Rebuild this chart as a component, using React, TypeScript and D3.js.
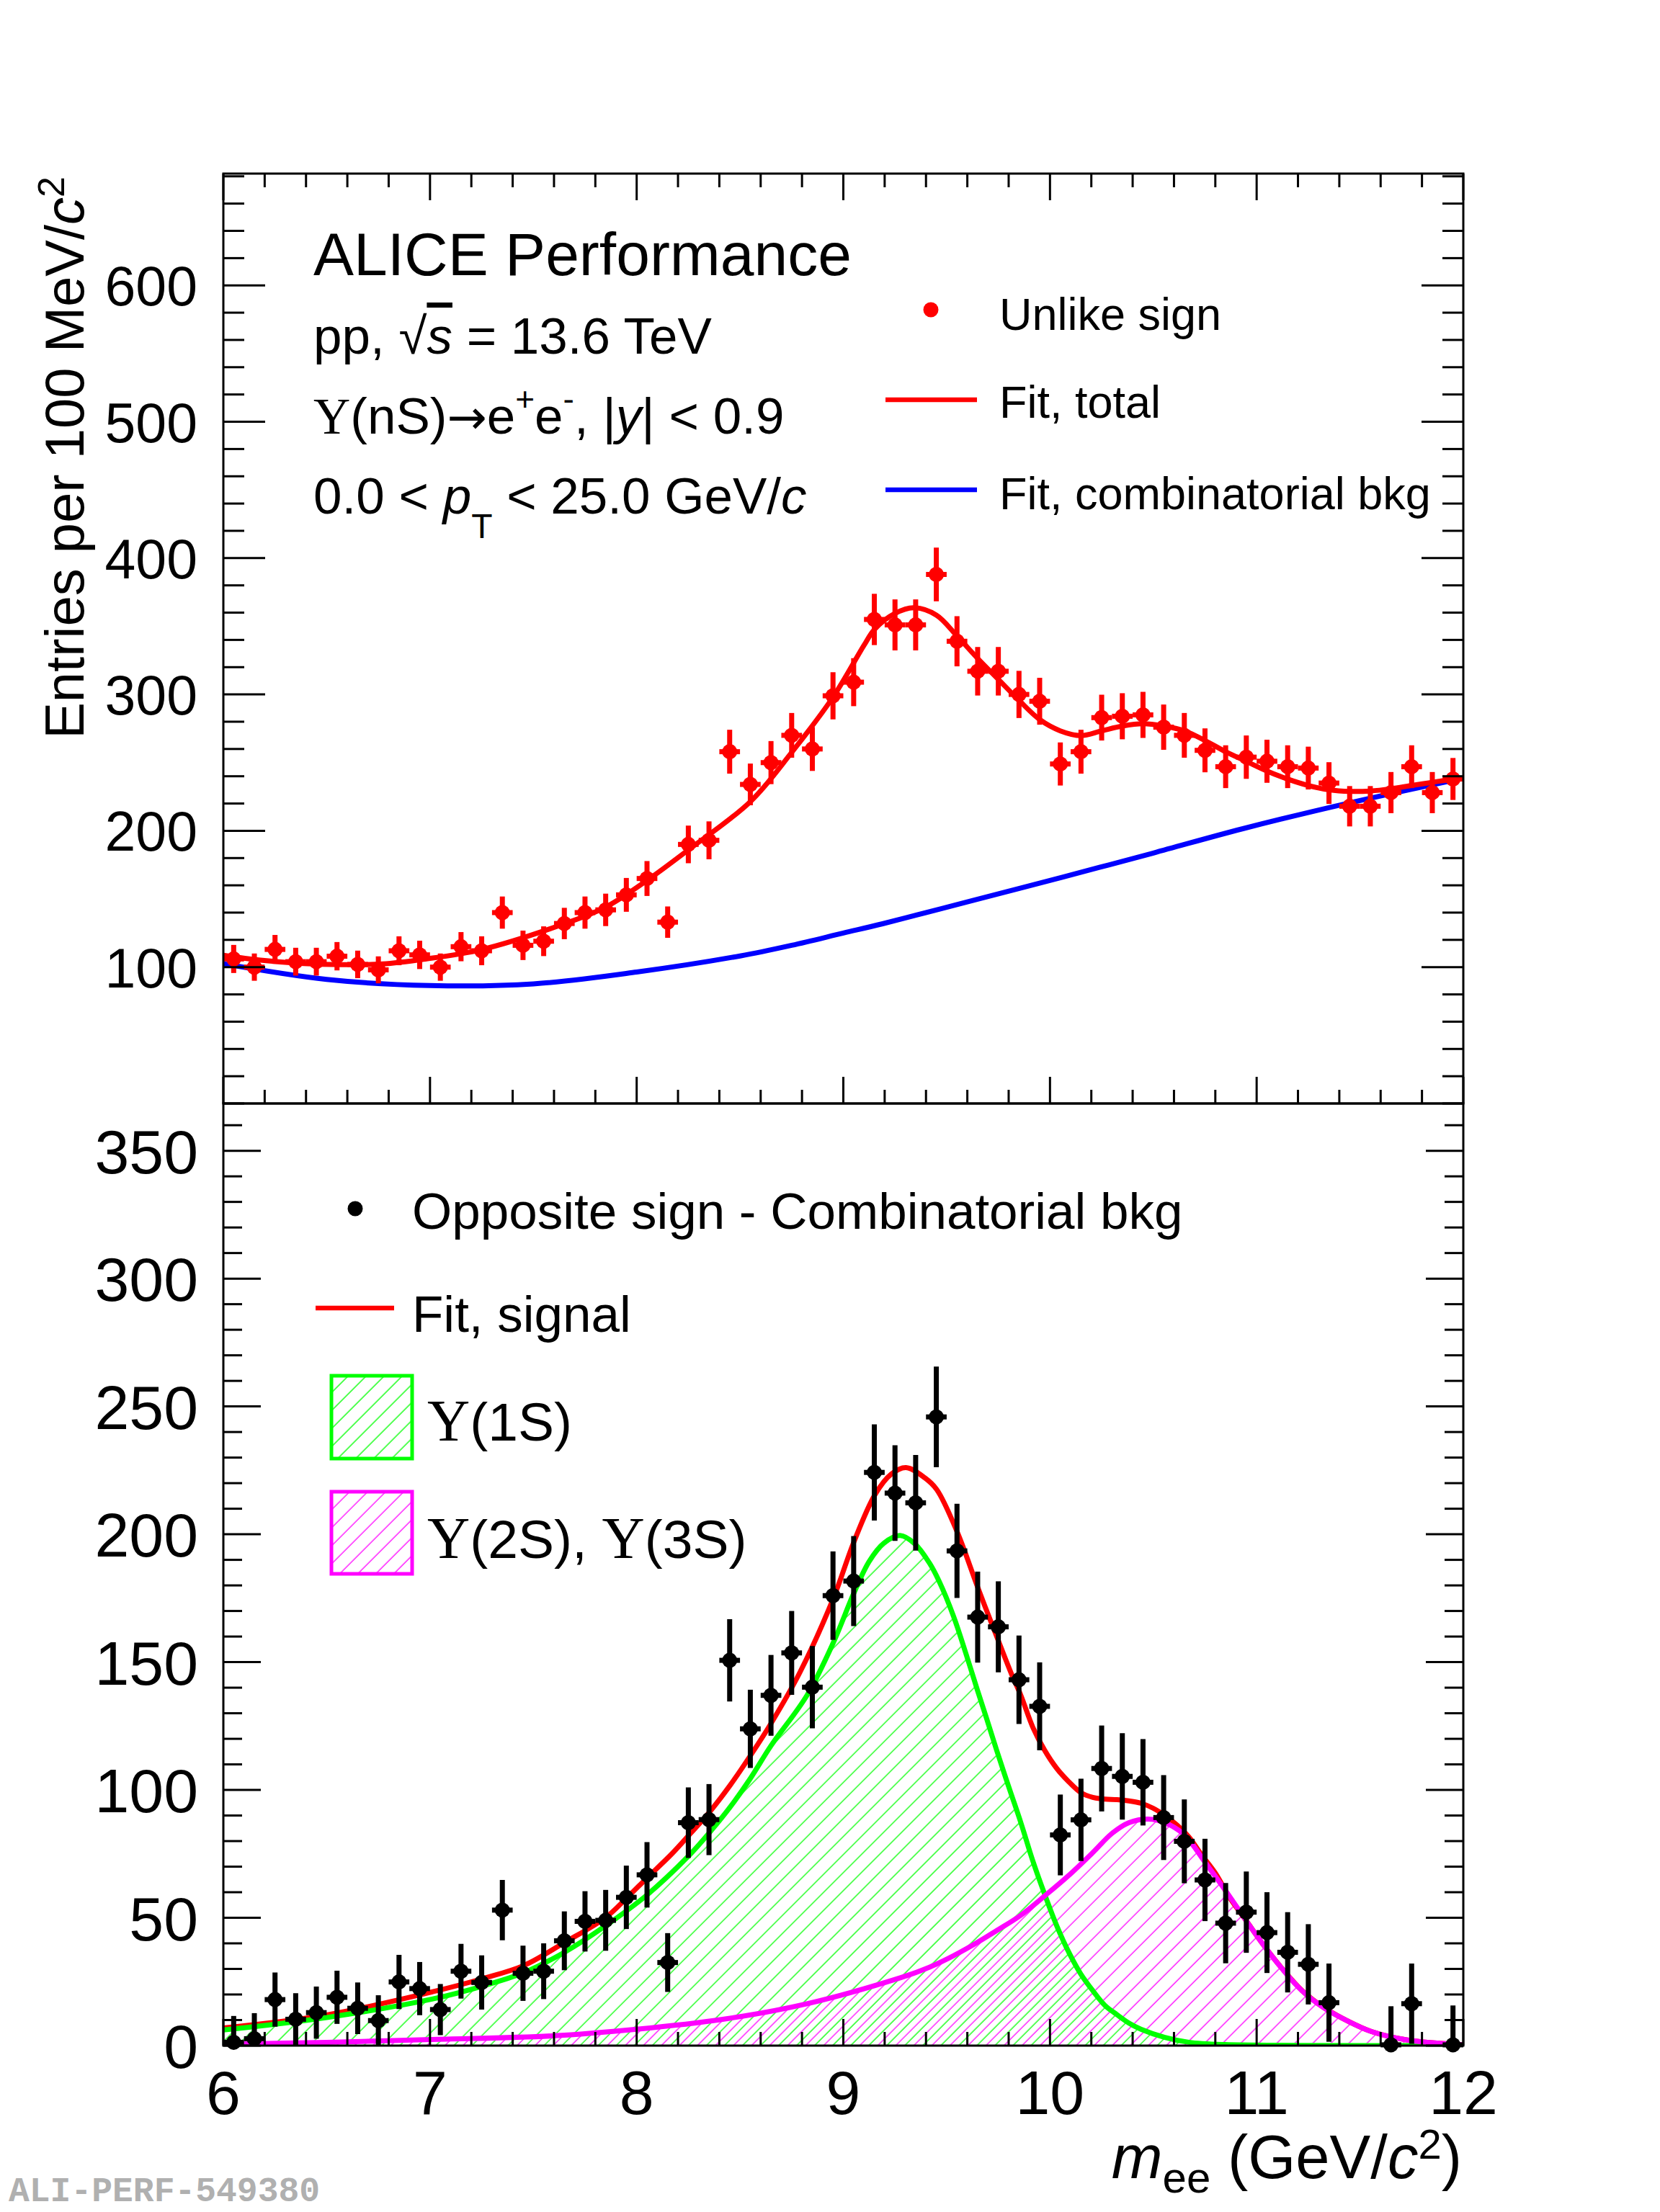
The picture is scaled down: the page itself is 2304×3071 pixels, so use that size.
import * as d3 from "d3";

type Pt = [number, number];

const SANS = "'Liberation Sans', Arial, Helvetica, sans-serif";
const SERIF = "'Liberation Serif', 'Times New Roman', serif";
const MONO = "'Liberation Mono', 'Courier New', monospace";

const RED = "#ff0000";
const BLUE = "#0000ff";
const GREEN = "#00ff00";
const MAGENTA = "#ff00ff";

// histogram binning: 60 bins of 100 MeV from 6 to 12 GeV
const MASS_MIN = 6;
const MASS_MAX = 12;
const BIN_WIDTH = 0.1;

// upper pad: unlike-sign pairs per bin
const UNLIKE_SIGN = [
  106, 100, 113, 104, 104, 108, 102, 98, 112, 109,
  100, 115, 112, 140, 116, 119, 132, 140, 142, 153,
  165, 133, 190, 193, 258, 234, 250, 270, 260, 299,
  309, 355, 351, 351, 388, 339, 317, 317, 300, 295,
  249, 258, 283, 284, 285, 276, 270, 259, 247, 254,
  251, 247, 246, 235, 218, 218, 228, 247, 228, 238,
];

// statistical errors (same in both pads)
const STAT_ERR = [
  10.3, 10.0, 10.6, 10.2, 10.2, 10.4, 10.1, 9.9, 10.6, 10.4,
  10.0, 10.7, 10.6, 11.8, 10.8, 10.9, 11.5, 11.8, 11.9, 12.4,
  12.8, 11.5, 13.8, 13.9, 16.1, 15.3, 15.8, 16.4, 16.1, 17.3,
  17.6, 18.8, 18.7, 18.7, 19.7, 18.4, 17.8, 17.8, 17.3, 17.2,
  15.8, 16.1, 16.8, 16.9, 16.9, 16.6, 16.4, 16.1, 15.7, 15.9,
  15.8, 15.7, 15.7, 15.3, 14.8, 14.8, 15.1, 15.7, 15.1, 15.4,
];

// lower pad: opposite sign minus combinatorial bkg (negative bins fall below the frame)
const SIGNAL = [
  1.3, 2.7, 18, 10.3, 12.9, 18.9, 14.6, 9.8, 24.9, 22.3,
  14.1, 29.1, 24.7, 53, 28.3, 29.1, 41, 48.6, 49, 58,
  66.8, 32.5, 87.2, 88.4, 150.7, 123.9, 137, 153.6, 140.2, 176,
  181.7, 224.2, 216.1, 212.3, 245.9, 193.5, 167.6, 163.8, 143.1, 132.7,
  82.4, 88.3, 108.4, 105.3, 103, 89.2, 79.9, 64.8, 47.9, 52.2,
  44.2, 36.5, 31.8, 16.8, -5, -6, 0.3, 16.4, -7, 0.3,
];

// fit curves [mass, value]
const FIT_BKG: Pt[] = [
  [6.0, 102.5], [6.5, 91], [7.0, 86.5], [7.5, 87.7], [8.0, 96.4], [8.5, 108.2],
  [8.75, 116], [9.0, 125], [9.19, 131.8], [9.63, 149], [10.06, 166], [10.5, 183.7],
  [10.93, 201.4], [11.45, 220.5], [12.0, 238.6],
];

const FIT_TOTAL: Pt[] = [
  [6.0, 108.7], [6.18, 105.1], [6.37, 102.8], [6.57, 101.8], [6.77, 102.3], [6.97, 105.8],
  [7.25, 112.9], [7.65, 131.8], [7.85, 144], [8.05, 163.6], [8.25, 186], [8.55, 221.4],
  [8.75, 257.5], [8.95, 298], [9.1, 336], [9.15, 347.6], [9.25, 359.4], [9.34, 363.6],
  [9.45, 358.2], [9.55, 342.9], [9.65, 326.4], [9.75, 311], [9.85, 295.7], [9.95, 281.6],
  [10.05, 273.3], [10.15, 269.8], [10.25, 273.3], [10.35, 276.8], [10.45, 278.5], [10.55, 276.8],
  [10.65, 273.3], [10.75, 266.2], [10.85, 258], [10.95, 250.9], [11.05, 243.8], [11.15, 237.9],
  [11.25, 233.2], [11.35, 230.1], [11.45, 228.9], [11.55, 229.2], [11.65, 230.8], [11.75, 233.2],
  [11.85, 235.5], [11.95, 237.9], [12.0, 238.6],
];

const FIT_SIGNAL: Pt[] = [
  [6.0, 6.9], [6.5, 12], [7.01, 21.0], [7.255, 26.2], [7.453, 31.3], [7.65, 40.3],
  [7.85, 50.1], [7.95, 57.6], [8.05, 65.6], [8.17, 75], [8.255, 82.5], [8.354, 91.5],
  [8.452, 101.8], [8.551, 113.5], [8.65, 126], [8.79, 146], [8.952, 175], [9.051, 197],
  [9.153, 215.5], [9.231, 223.5], [9.303, 226.1], [9.394, 222.1], [9.452, 217.5], [9.551, 200.9],
  [9.65, 179.3], [9.752, 158], [9.813, 145.5], [9.859, 137], [9.917, 124.5], [9.975, 115.4],
  [10.033, 108.4], [10.091, 103.2], [10.149, 99], [10.207, 97.1], [10.265, 96.4], [10.324, 96.2],
  [10.382, 95.7], [10.44, 94.8], [10.498, 92.9], [10.556, 90], [10.614, 86.3], [10.672, 81.6],
  [10.73, 75], [10.8, 67.5], [10.87, 57.8], [10.951, 48.7], [11.032, 39.5], [11.125, 30],
  [11.219, 21.6], [11.323, 15], [11.439, 9.7], [11.556, 5.5], [11.73, 2.2], [12.0, 0.3],
];

const FIT_1S: Pt[] = [
  [6.0, 6.1], [6.5, 11], [7.01, 18.2], [7.255, 23.3], [7.453, 28.5], [7.65, 36.5],
  [7.848, 46.8], [8.051, 59], [8.255, 74.5], [8.354, 83.5], [8.452, 93.3], [8.551, 104.6],
  [8.65, 117.3], [8.824, 137], [8.952, 157.7], [9.051, 177], [9.126, 189.5], [9.196, 196.5],
  [9.275, 199.5], [9.347, 196.2], [9.417, 188.7], [9.463, 181.7], [9.533, 168], [9.591, 153.9],
  [9.649, 139], [9.695, 127.5], [9.742, 115.5], [9.8, 101.3], [9.859, 87.2], [9.917, 72.2],
  [9.975, 59], [10.033, 46.8], [10.091, 36.5], [10.149, 28], [10.207, 21.5], [10.265, 15.8],
  [10.324, 12.1], [10.382, 8.8], [10.44, 6.4], [10.556, 3.2], [10.672, 1.3], [10.847, 0.4],
  [11.2, 0.1], [12.0, 0],
];

const FIT_2S3S: Pt[] = [
  [6.0, 0.5], [6.5, 1.3], [7.01, 2.4], [7.59, 3.8], [8.0, 6.4], [8.41, 10.2],
  [8.82, 16.3], [9.278, 26.6], [9.394, 29.9], [9.51, 34.2], [9.626, 39.3], [9.742, 45],
  [9.859, 51], [9.975, 58.6], [10.091, 66.6], [10.207, 75.5], [10.3, 83], [10.382, 87.2],
  [10.475, 88.6], [10.556, 87.2], [10.649, 82.5], [10.754, 71.3], [10.847, 60.9], [10.951, 48.7],
  [11.032, 39.5], [11.125, 29.9], [11.219, 21.5], [11.323, 14.9], [11.439, 9.7], [11.556, 5.5],
  [11.73, 2.2], [12.0, 0.3],
];

const MASS_TICKS = [6, 7, 8, 9, 10, 11, 12];
const TOP_Y_TICKS = [100, 200, 300, 400, 500, 600];
const BOTTOM_Y_TICKS = [0, 50, 100, 150, 200, 250, 300, 350];
const TOP_Y_MAX = 682;
const BOTTOM_Y_MAX = 368.5;

// canvas / frame geometry
const W = 2304;
const H = 3071;
const LEFT = 310;
const RIGHT = 2031;
const TOP = 241;
const SPLIT = 1532;
const BOTTOM = 2840;

const x = d3.scaleLinear().domain([MASS_MIN, MASS_MAX]).range([LEFT, RIGHT]);
const yTop = d3.scaleLinear().domain([0, TOP_Y_MAX]).range([SPLIT, TOP]);
const yBot = d3.scaleLinear().domain([0, BOTTOM_Y_MAX]).range([BOTTOM, SPLIT]);

const smooth = d3.curveCatmullRom.alpha(0.5);

function PadTicks({ y, yMajor, yMinorStep, yMax, majLen, minLen, xTop, xBottom }: {
  y: d3.ScaleLinear<number, number>; yMajor: number[]; yMinorStep: number; yMax: number;
  majLen: number; minLen: number; xTop: boolean; xBottom: boolean;
}) {
  const [py0, py1] = y.range();
  const yMinor = d3.range(0, yMax, yMinorStep);
  const xMinor = d3.range(MASS_MIN, MASS_MAX + 1e-6, 0.2);
  const xLen = (v: number) => (MASS_TICKS.some(t => Math.abs(t - v) < 1e-6) ? 37 : 19);
  const yLen = (v: number) => (yMajor.includes(Math.round(v)) ? majLen : minLen);
  return (
    <g stroke="#000" strokeWidth={3}>
      {yMinor.map(v => (
        <g key={"y" + v}>
          <line x1={LEFT} x2={LEFT + yLen(v)} y1={y(v)} y2={y(v)} />
          <line x1={RIGHT} x2={RIGHT - yLen(v)} y1={y(v)} y2={y(v)} />
        </g>
      ))}
      {xMinor.map(v => (
        <g key={"x" + v.toFixed(1)}>
          {xTop && <line x1={x(v)} x2={x(v)} y1={py1} y2={py1 + xLen(v)} />}
          {xBottom && <line x1={x(v)} x2={x(v)} y1={py0} y2={py0 - xLen(v)} />}
        </g>
      ))}
      <rect x={LEFT} y={py1} width={RIGHT - LEFT} height={py0 - py1} fill="none" />
    </g>
  );
}

function Points({ values, y, yMax, color }: {
  values: number[]; y: d3.ScaleLinear<number, number>; yMax: number; color: string;
}) {
  return (
    <g>
      {values.map((v, i) => {
        if (v < 0) return null;
        const c = MASS_MIN + BIN_WIDTH * (i + 0.5);
        const lo = Math.max(0, v - STAT_ERR[i]);
        const hi = Math.min(yMax, v + STAT_ERR[i]);
        return (
          <g key={i}>
            <line x1={x(c)} x2={x(c)} y1={y(lo)} y2={y(hi)} stroke={color} strokeWidth={7} />
            <line x1={x(c - BIN_WIDTH / 2)} x2={x(c + BIN_WIDTH / 2)} y1={y(v)} y2={y(v)}
              stroke={color} strokeWidth={7} />
            <circle cx={x(c)} cy={y(v)} r={10.5} fill={color} />
          </g>
        );
      })}
    </g>
  );
}

export default function App() {
  const lineTop = d3.line<Pt>().x(d => x(d[0])).y(d => yTop(d[1])).curve(smooth);
  const lineBot = d3.line<Pt>().x(d => x(d[0])).y(d => yBot(d[1])).curve(smooth);
  const areaBot = d3.area<Pt>().x(d => x(d[0])).y0(yBot(0)).y1(d => yBot(d[1])).curve(smooth);

  return (
    <>
      <style>{`body{margin:0;background:#fff}`}</style>
      <svg width={W} height={H} style={{ display: "block" }} fontFamily={SANS}>
        <defs>
          <clipPath id="clipTop"><rect x={LEFT} y={TOP} width={RIGHT - LEFT} height={SPLIT - TOP} /></clipPath>
          <clipPath id="clipBot"><rect x={LEFT} y={SPLIT} width={RIGHT - LEFT} height={BOTTOM - SPLIT} /></clipPath>
          <pattern id="hatchGreen" patternUnits="userSpaceOnUse" width={17.7} height={17.7}
            patternTransform="rotate(45)">
            <line x1={11} x2={11} y1={0} y2={17.7} stroke={GREEN} strokeWidth={1.3} />
          </pattern>
          <pattern id="hatchMagenta" patternUnits="userSpaceOnUse" width={17.7} height={17.7}
            patternTransform="rotate(45)">
            <line x1={2.2} x2={2.2} y1={0} y2={17.7} stroke={MAGENTA} strokeWidth={1.3} />
          </pattern>
        </defs>
        <rect width={W} height={H} fill="#fff" />

        {/* upper pad */}
        <g clipPath="url(#clipTop)" fill="none" strokeWidth={7}>
          <path d={lineTop(FIT_BKG) ?? ""} stroke={BLUE} />
          <path d={lineTop(FIT_TOTAL) ?? ""} stroke={RED} />
        </g>
        <Points values={UNLIKE_SIGN} y={yTop} yMax={TOP_Y_MAX} color={RED} />
        <PadTicks y={yTop} yMajor={TOP_Y_TICKS} yMinorStep={20} yMax={TOP_Y_MAX}
          majLen={58} minLen={29} xTop xBottom />
        <g fontSize={77} textAnchor="end">
          {TOP_Y_TICKS.map(v => (
            <text key={v} x={274} y={yTop(v) + 28}>{v}</text>
          ))}
        </g>

        {/* lower pad */}
        <g clipPath="url(#clipBot)">
          <path d={areaBot(FIT_2S3S) ?? ""} fill="url(#hatchMagenta)" />
          <path d={areaBot(FIT_1S) ?? ""} fill="url(#hatchGreen)" />
          <g fill="none" strokeWidth={7}>
            <path d={lineBot(FIT_SIGNAL) ?? ""} stroke={RED} />
            <path d={lineBot(FIT_1S) ?? ""} stroke={GREEN} />
            <path d={lineBot(FIT_2S3S) ?? ""} stroke={MAGENTA} />
          </g>
        </g>
        <Points values={SIGNAL} y={yBot} yMax={BOTTOM_Y_MAX} color="#000" />
        <PadTicks y={yBot} yMajor={BOTTOM_Y_TICKS} yMinorStep={10} yMax={BOTTOM_Y_MAX}
          majLen={52} minLen={26} xTop={false} xBottom />
        <g fontSize={86} textAnchor="end">
          {BOTTOM_Y_TICKS.map(v => (
            <text key={v} x={275} y={yBot(v) + 31}>{v}</text>
          ))}
        </g>
        <g fontSize={86} textAnchor="middle">
          {MASS_TICKS.map(v => (
            <text key={v} x={x(v)} y={2935}>{v}</text>
          ))}
        </g>

        {/* axis titles */}
        <text transform="translate(116,245) rotate(-90)" textAnchor="end" fontSize={76}>
          Entries per 100 MeV/<tspan fontStyle="italic">c</tspan>
          <tspan fontSize={52} dy={-27}>2</tspan>
        </text>
        <text x={2029} y={3024} textAnchor="end" fontSize={85}>
          <tspan fontStyle="italic">m</tspan>
          <tspan fontSize={60} dy={20}>ee</tspan>
          <tspan dy={-20}> (GeV/</tspan>
          <tspan fontStyle="italic">c</tspan>
          <tspan fontSize={58} dy={-27}>2</tspan>
          <tspan dy={27}>)</tspan>
        </text>

        {/* upper pad text */}
        <text x={435} y={382} fontSize={84}>ALICE Performance</text>
        <text x={435} y={491} fontSize={71}>
          pp, √<tspan fontStyle="italic" style={{ textDecoration: "overline" }}>s</tspan> = 13.6 TeV
        </text>
        <text x={435} y={602} fontSize={71}>
          <tspan fontFamily={SERIF}>{"\u03A5"}</tspan>(nS)
          <tspan fontFamily="'DejaVu Sans', sans-serif" fontSize={66}>→</tspan>e
          <tspan fontSize={46} dy={-32}>+</tspan>
          <tspan dy={32}>e</tspan>
          <tspan fontSize={46} dy={-32}>-</tspan>
          <tspan dy={32}>, |</tspan>
          <tspan fontStyle="italic">y</tspan>| &lt; 0.9
        </text>
        <text x={435} y={713} fontSize={71}>
          0.0 &lt; <tspan fontStyle="italic">p</tspan>
          <tspan fontSize={48} dy={34}>T</tspan>
          <tspan dy={-34}> &lt; 25.0 GeV/</tspan>
          <tspan fontStyle="italic">c</tspan>
        </text>

        {/* upper legend */}
        <g fontSize={63}>
          <circle cx={1292} cy={430} r={10.5} fill={RED} />
          <text x={1387} y={458}>Unlike sign</text>
          <line x1={1229} x2={1356} y1={555} y2={555} stroke={RED} strokeWidth={6.5} />
          <text x={1387} y={580}>Fit, total</text>
          <line x1={1229} x2={1356} y1={680} y2={680} stroke={BLUE} strokeWidth={6.5} />
          <text x={1387} y={707}>Fit, combinatorial bkg</text>
        </g>

        {/* lower legend */}
        <g fontSize={71}>
          <circle cx={493} cy={1678} r={10.5} fill="#000" />
          <text x={572} y={1706}>Opposite sign - Combinatorial bkg</text>
          <line x1={438} x2={547} y1={1816} y2={1816} stroke={RED} strokeWidth={6.5} />
          <text x={572} y={1849}>Fit, signal</text>
          <rect x={460} y={1910} width={112} height={115} fill="url(#hatchGreen)"
            stroke={GREEN} strokeWidth={5} />
          <text x={593} y={2000} fontSize={75}>
            <tspan fontFamily={SERIF} fontSize={82}>{"\u03A5"}</tspan>(1S)
          </text>
          <rect x={460} y={2071} width={112} height={114} fill="url(#hatchMagenta)"
            stroke={MAGENTA} strokeWidth={5} />
          <text x={593} y={2163} fontSize={75}>
            <tspan fontFamily={SERIF} fontSize={82}>{"\u03A5"}</tspan>(2S), <tspan fontFamily={SERIF} fontSize={82}>{"\u03A5"}</tspan>(3S)
          </text>
        </g>

        <text x={12} y={3056} fontFamily={MONO} fontWeight="bold" fontSize={48} fill="#b0b0b0">
          ALI-PERF-549380
        </text>
      </svg>
    </>
  );
}
